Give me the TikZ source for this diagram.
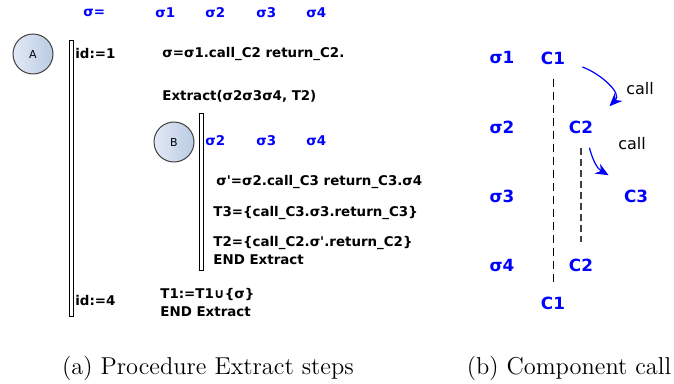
\documentclass[tikz,border=0pt]{standalone}
\usepackage{fontspec}
\newfontfamily\dejavu{DejaVu Sans}
\usetikzlibrary{positioning,arrows.meta}

\definecolor{procleft}{RGB}{226,233,245}
\definecolor{procright}{RGB}{186,203,227}

\tikzset{
  txt/.style={font=\dejavu\bfseries\fontsize{6.7}{8}\selectfont, anchor=west, inner sep=0pt},
  sig/.style={txt, text=blue},
  big/.style={font=\dejavu\bfseries\fontsize{8.4}{10}\selectfont, text=blue, inner sep=1pt},
  lbl/.style={font=\dejavu\fontsize{8}{10}\selectfont, inner sep=0pt},
  proc/.style={circle, draw=black!75, line width=0.5pt, minimum size=20pt, inner sep=0pt,
    left color=procleft, right color=procright, font=\dejavu\fontsize{5.5}{6}\selectfont},
  bar/.style={draw, fill=white, line width=0.4pt},
  subcap/.style={font=\fontsize{12.2}{14}\selectfont, inner sep=0pt},
  callarr/.style={blue, line width=0.6pt, -{Stealth[length=6.5pt,width=5.5pt]}},
}

\begin{document}
\begin{tikzpicture}[x=0.5pt,y=-0.5pt]
\useasboundingbox (0,0) rectangle (674,384);

% (a) procedure steps
\node[sig] (top0) at (83,13) {σ=};
\foreach \i/\x in {1/155,2/205,3/256,4/306}
  \node[sig] (top\i) at (\x,13) {σ\i};

\node[proc] (A) at (33,54) {A};
\draw[bar] (69,40) rectangle (73,316);
\node[txt] (id1) at (75,54) {id:=1};
\node[txt] (sig) at (162,54) {σ=σ1.call\_C2 return\_C2.};
\node[txt] (ext) at (162,96) {Extract(σ2σ3σ4, T2)};

\node[proc] (B) at (174,142) {B};
\draw[bar] (199,113) rectangle (203,270);
\foreach \i/\x in {2/205,3/256,4/306}
  \node[sig] (in\i) at (\x,141) {σ\i};
\node[txt] (sigp) at (216,182) {σ\textquotesingle=σ2.call\_C3 return\_C3.σ4};
\node[txt] (t3) at (213,213) {T3=\{call\_C3.σ3.return\_C3\}};
\node[txt] (t2) at (213,243) {T2=\{call\_C2.σ\textquotesingle.return\_C2\}};
\node[txt] (end2) at (213,260) {END Extract};

\node[txt] (id4) at (75,301) {id:=4};
\node[txt] (t1) at (160,295) {T1:=T1∪\{σ\}};
\node[txt] (end1) at (160,312) {END Extract};

% (b) component call
\foreach \i/\y in {1/58,2/127,3/196,4/265}
  \node[big] (s\i) at (502,\y) {σ\i};
\node[big] (c1a) at (553,58) {C1};
\node[big] (c2a) at (581,127) {C2};
\node[big] (c3) at (636,196) {C3};
\node[big] (c2b) at (581,265) {C2};
\node[big] (c1b) at (553,303) {C1};

\draw[dash pattern=on 4pt off 2.5pt, shorten <=6pt, shorten >=5pt] (c1a) -- (c1b);
\draw[black!75, line width=0.6pt, dash pattern=on 3.5pt off 2pt, shorten <=6pt, shorten >=7pt] (c2a) -- (c2b);

\draw[callarr] ([shift={(7.5pt,-4.5pt)}]c1a.east) to[out=-20,in=45] ([shift={(7pt,6pt)}]c2a.north east);
\draw[callarr] ([shift={(-3pt,-6pt)}]c2a.south east) to[out=-75,in=150] ([shift={(-6.5pt,6pt)}]c3.north west);
\node[lbl] (call1) at (640,89) {call};
\node[lbl] (call2) at (632,144) {call};

\node[subcap] (capa) at (208,368) {(a) Procedure Extract steps};
\node[subcap] (capb) at (569,368) {(b) Component call};
\end{tikzpicture}
\end{document}
